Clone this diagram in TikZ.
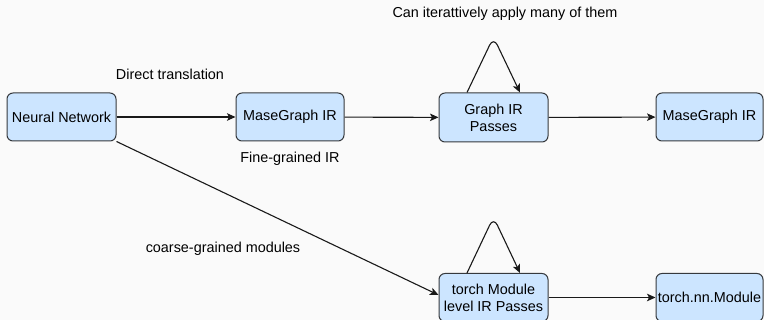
\documentclass[tikz,border=0pt]{standalone}
\usepackage{fontspec}
\setmainfont{Liberation Sans}
\usetikzlibrary{arrows.meta,calc}
\definecolor{bgcol}{RGB}{250,250,250}
\definecolor{boxfill}{RGB}{204,229,255}
\definecolor{boxline}{RGB}{54,57,61}
\tikzset{
  stagebox/.style={draw=boxline, fill=boxfill, line width=1pt, rounded corners=6pt,
    minimum width=109pt, minimum height=48pt, inner sep=0pt, align=center,
    font=\fontsize{14.4}{17}\selectfont},
  lbl/.style={inner sep=0pt, font=\fontsize{14.4}{17}\selectfont},
  flow/.style={draw=black!90, line width=1.1pt, -{Stealth[length=8.5pt,width=7.5pt,inset=2pt]}},
  loopline/.style={flow, rounded corners=9pt}
}
\begin{document}
\begin{tikzpicture}[x=1pt,y=-1pt]
  \fill[bgcol] (0,0) rectangle (764,320);
  \useasboundingbox (0,0) rectangle (764,320);

  % stages
  \node[stagebox] (nn)  at (61.5,117)   {Neural Network};
  \node[stagebox, minimum width=108pt] (mg1) at (290,117) {MaseGraph IR};
  \node[stagebox, minimum height=49pt] (gp)  at (493.5,117.5) {Graph IR\\Passes};
  \node[stagebox, minimum width=107pt] (mg2) at (709.5,117) {MaseGraph IR};
  \node[stagebox] (tm)  at (493.5,297.5) {torch Module\\level IR Passes};
  \node[stagebox, minimum width=107pt] (tn)  at (709.5,297.5) {torch.nn.Module};

  % loop apexes
  \coordinate (gpTop) at (493.5,37);
  \coordinate (tmTop) at (493.5,217);

  % connectors
  \draw[flow] (nn) -- (mg1);
  \draw[flow] (mg1) -- (gp);
  \draw[flow] (gp) -- (mg2);
  \draw[flow] (nn.south east) -- ($(tm.west)+(0,-2.5)$);
  \draw[flow] (tm) -- (tn);
  \draw[loopline] ($(gp.north)+(-26.5,0)$) -- (gpTop) -- ($(gp.north)+(26.5,0)$);
  \draw[loopline] ($(tm.north)+(-26.5,0)$) -- (tmTop) -- ($(tm.north)+(26.5,0)$);

  % labels
  \node[lbl] (ldirect) at (170,74)  {Direct translation};
  \node[lbl] (lfine)   at (290,159) {Fine-grained IR};
  \node[lbl] (liter)   at (505,14)  {Can iterattively apply many of them};
  \node[lbl] (lcoarse) at (223,249) {coarse-grained modules};
\end{tikzpicture}
\end{document}
